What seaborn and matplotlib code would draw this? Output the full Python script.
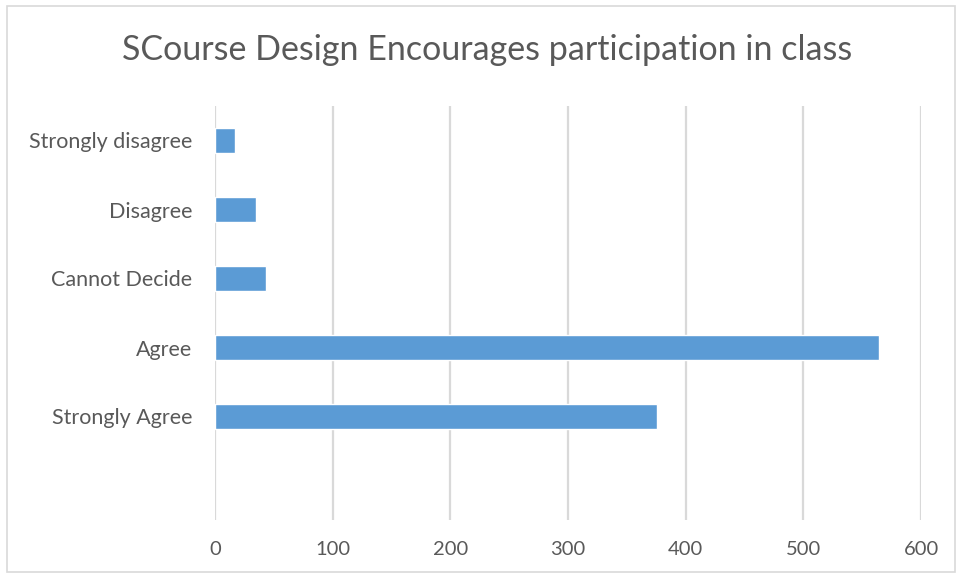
import matplotlib
matplotlib.use('Agg')
import matplotlib.pyplot as plt
import seaborn as sns
import pandas as pd
from matplotlib.patches import Rectangle

# Datos
categorias = ['Strongly disagree', 'Disagree', 'Cannot Decide', 'Agree', 'Strongly Agree']
respuestas = [17, 35, 43, 564, 376]
ticks_x = [0, 100, 200, 300, 400, 500, 600]

df = pd.DataFrame({'categoria': categorias, 'n': respuestas})

sns.set_theme(style='white')
plt.rcParams['font.family'] = ['Lato', 'DejaVu Sans']

gris_texto = '#595959'
azul = '#5b9bd5'

fig = plt.figure(figsize=(9.6, 5.78), dpi=100)
ax = fig.add_axes([215 / 960, 1 - 520 / 578, 706 / 960, 414 / 578])

sns.barplot(data=df, x='n', y='categoria', order=categorias, color=azul,
            saturation=1, width=0.35, ax=ax)

ax.set_xlim(0, 600)
ax.set_ylim(5.5, -0.5)
ax.set_xticks(ticks_x)
ax.set_xlabel('')
ax.set_ylabel('')
ax.grid(axis='x', color='#d9d9d9', linewidth=1.6)
ax.set_axisbelow(True)
for s in ax.spines.values():
    s.set_visible(False)
ax.tick_params(axis='y', length=0, labelsize=15.5, labelcolor=gris_texto, pad=16.5)
ax.tick_params(axis='x', length=0, labelsize=14.5, labelcolor=gris_texto, pad=15)

fig.text(487 / 960, 1 - 50 / 578, 'SCourse Design Encourages participation in class',
         ha='center', va='center', fontsize=24.5, color=gris_texto)

# Marco del área del gráfico
fig.patches.append(Rectangle((7 / 960, 6 / 578), 948 / 960, 566 / 578,
                             transform=fig.transFigure, fill=False,
                             edgecolor='#d9d9d9', linewidth=1.2))

fig.savefig('out.png', dpi=100)
